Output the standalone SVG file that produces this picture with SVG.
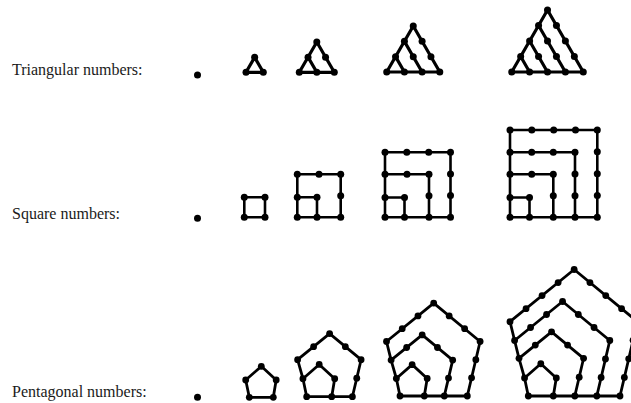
<svg xmlns="http://www.w3.org/2000/svg" width="631" height="403" viewBox="0 0 631 403">
<style>
.lbl{font-family:"Liberation Serif","Times New Roman",serif;font-size:16px;fill:#1a1a1a}
.ln{fill:none;stroke:#000;stroke-linejoin:round;stroke-linecap:round}
.tri .ln{stroke-width:3.2}
.sq .ln{stroke-width:2.6}
.pen .ln{stroke-width:2.8}
circle{fill:#000}
</style>
<rect width="631" height="403" fill="#fff"/>

<g id="labels">
<text class="lbl" x="12" y="74.5">Triangular numbers:</text>
<text class="lbl" x="12" y="218.5">Square numbers:</text>
<text class="lbl" x="12" y="397">Pentagonal numbers:</text>
</g>

<!-- Triangular -->
<g id="tri1" class="tri"><circle cx="197.5" cy="75" r="3.5"/></g>
<g id="tri2" class="tri">
<path class="ln" d="M246,72.3 L263.3,72.3 L254.65,57.32 Z"/>
<circle cx="246" cy="72.3" r="3.5"/><circle cx="263.3" cy="72.3" r="3.5"/><circle cx="254.65" cy="57.32" r="3.5"/>
</g>
<g id="tri3" class="tri">
<path class="ln" d="M299.3,72.3 L334.3,72.3 L316.8,42 Z M316.8,72.3 L308.05,57.15"/>
<circle cx="299.3" cy="72.3" r="3.5"/><circle cx="316.8" cy="72.3" r="3.5"/><circle cx="334.3" cy="72.3" r="3.5"/>
<circle cx="308.05" cy="57.15" r="3.5"/><circle cx="325.55" cy="57.15" r="3.5"/>
<circle cx="316.8" cy="42" r="3.5"/>
</g>
<g id="tri4" class="tri">
<path class="ln" d="M386.7,72 L439.8,72 L413.25,26 Z M422.1,72 L404.4,41.34 M404.4,72 L395.55,56.67"/>
<circle cx="386.7" cy="72" r="3.5"/><circle cx="404.4" cy="72" r="3.5"/><circle cx="422.1" cy="72" r="3.5"/><circle cx="439.8" cy="72" r="3.5"/>
<circle cx="395.55" cy="56.67" r="3.5"/><circle cx="413.25" cy="56.67" r="3.5"/><circle cx="430.95" cy="56.67" r="3.5"/>
<circle cx="404.4" cy="41.34" r="3.5"/><circle cx="422.1" cy="41.34" r="3.5"/>
<circle cx="413.25" cy="26" r="3.5"/>
</g>
<g id="tri5" class="tri">
<path class="ln" d="M511.7,72 L583.3,72 L547.5,10 Z M565.4,72 L538.55,25.5 M547.5,72 L529.6,41 M529.6,72 L520.65,56.5"/>
<circle cx="511.7" cy="72" r="3.5"/><circle cx="529.6" cy="72" r="3.5"/><circle cx="547.5" cy="72" r="3.5"/><circle cx="565.4" cy="72" r="3.5"/><circle cx="583.3" cy="72" r="3.5"/>
<circle cx="520.65" cy="56.5" r="3.5"/><circle cx="538.55" cy="56.5" r="3.5"/><circle cx="556.45" cy="56.5" r="3.5"/><circle cx="574.35" cy="56.5" r="3.5"/>
<circle cx="529.6" cy="41" r="3.5"/><circle cx="547.5" cy="41" r="3.5"/><circle cx="565.4" cy="41" r="3.5"/>
<circle cx="538.55" cy="25.5" r="3.5"/><circle cx="556.45" cy="25.5" r="3.5"/>
<circle cx="547.5" cy="10" r="3.5"/>
</g>

<!-- Square -->
<g id="sq1" class="sq"><circle cx="197.5" cy="218.3" r="3.5"/></g>
<g id="sq2" class="sq">
<path class="ln" d="M244.3,217.3 V197.3 H265 V217.3 Z"/>
<circle cx="244.3" cy="217.3" r="3.5"/><circle cx="265" cy="217.3" r="3.5"/><circle cx="244.3" cy="197.3" r="3.5"/><circle cx="265" cy="197.3" r="3.5"/>
</g>
<g id="sq3" class="sq">
<path class="ln" d="M297.3,217.3 V174.3 H340.7 V217.3 Z M297.3,197.3 H317 V217.3"/>
<circle cx="297.3" cy="174.3" r="3.5"/><circle cx="319" cy="174.3" r="3.5"/><circle cx="340.7" cy="174.3" r="3.5"/>
<circle cx="340.7" cy="195.8" r="3.5"/><circle cx="340.7" cy="217.3" r="3.5"/>
<circle cx="297.3" cy="197.3" r="3.5"/><circle cx="317" cy="197.3" r="3.5"/><circle cx="317" cy="217.3" r="3.5"/>
<circle cx="297.3" cy="217.3" r="3.5"/>
</g>
<g id="sq4" class="sq">
<path class="ln" d="M385,217.3 V152.3 H450.5 V217.3 Z M385,174.3 H429 V217.3 M385,197.5 H404.5 V217.3"/>
<circle cx="385" cy="152.3" r="3.5"/><circle cx="406.8" cy="152.3" r="3.5"/><circle cx="428.7" cy="152.3" r="3.5"/><circle cx="450.5" cy="152.3" r="3.5"/>
<circle cx="450.5" cy="174" r="3.5"/><circle cx="450.5" cy="195.6" r="3.5"/><circle cx="450.5" cy="217.3" r="3.5"/>
<circle cx="385" cy="174.3" r="3.5"/><circle cx="407" cy="174.3" r="3.5"/><circle cx="429" cy="174.3" r="3.5"/>
<circle cx="429" cy="195.8" r="3.5"/><circle cx="429" cy="217.3" r="3.5"/>
<circle cx="385" cy="197.5" r="3.5"/><circle cx="404.5" cy="197.5" r="3.5"/><circle cx="404.5" cy="217.3" r="3.5"/>
<circle cx="385" cy="217.3" r="3.5"/>
</g>
<g id="sq5" class="sq">
<path class="ln" d="M510,217.3 V130 H597.3 V217.3 Z M510,152.3 H575 V217.3 M510,174.3 H553.3 V217.3 M510,197.5 H529.5 V217.3"/>
<circle cx="510" cy="130" r="3.5"/><circle cx="531.8" cy="130" r="3.5"/><circle cx="553.7" cy="130" r="3.5"/><circle cx="575.5" cy="130" r="3.5"/><circle cx="597.3" cy="130" r="3.5"/>
<circle cx="597.3" cy="151.8" r="3.5"/><circle cx="597.3" cy="173.7" r="3.5"/><circle cx="597.3" cy="195.5" r="3.5"/><circle cx="597.3" cy="217.3" r="3.5"/>
<circle cx="510" cy="152.3" r="3.5"/><circle cx="531.7" cy="152.3" r="3.5"/><circle cx="553.3" cy="152.3" r="3.5"/><circle cx="575" cy="152.3" r="3.5"/>
<circle cx="575" cy="174" r="3.5"/><circle cx="575" cy="195.7" r="3.5"/><circle cx="575" cy="217.3" r="3.5"/>
<circle cx="510" cy="174.3" r="3.5"/><circle cx="531.7" cy="174.3" r="3.5"/><circle cx="553.3" cy="174.3" r="3.5"/>
<circle cx="553.3" cy="195.8" r="3.5"/><circle cx="553.3" cy="217.3" r="3.5"/>
<circle cx="510" cy="197.5" r="3.5"/><circle cx="529.5" cy="197.5" r="3.5"/><circle cx="529.5" cy="217.3" r="3.5"/>
<circle cx="510" cy="217.3" r="3.5"/>
</g>

<!-- Pentagonal -->
<g id="pen1" class="pen"><circle cx="197.5" cy="397.3" r="3.5"/></g>
<g id="pen2" class="pen">
<path class="ln" d="M249.3,397.3 L273.3,397.3 L276.18,380.02 L261.3,366.34 L245.7,380.02 Z"/>
<circle cx="249.3" cy="397.3" r="3.4"/><circle cx="273.3" cy="397.3" r="3.4"/><circle cx="276.18" cy="380.02" r="3.4"/><circle cx="261.3" cy="366.34" r="3.4"/><circle cx="245.7" cy="380.02" r="3.4"/>
</g>
<g id="pen3" class="pen">
<path class="ln" d="M306.7,396.7 L352.4,396.7 M306.7,396.7 L302.95,378.7 L297.6,359.7 M331.7,396.7 L334.7,378.7 L319.2,364.45 L302.95,378.7 M352.4,396.7 L361.1,359.7 L329.6,333.6 L297.6,359.7"/>
<circle cx="306.7" cy="396.7" r="3.4"/>
<circle cx="331.7" cy="396.7" r="3.4"/><circle cx="334.7" cy="378.7" r="3.4"/><circle cx="319.2" cy="364.45" r="3.4"/><circle cx="302.95" cy="378.7" r="3.4"/>
<circle cx="352.4" cy="396.7" r="3.4"/><circle cx="356.75" cy="378.2" r="3.4"/><circle cx="361.1" cy="359.7" r="3.4"/><circle cx="345.35" cy="346.65" r="3.4"/><circle cx="329.6" cy="333.6" r="3.4"/><circle cx="313.6" cy="346.65" r="3.4"/><circle cx="297.6" cy="359.7" r="3.4"/>
</g>
<g id="pen4" class="pen">
<path class="ln" d="M400,396 L467.3,396 M400,396 L396.35,378.5 L391.1,360.1 L386.5,341.5 M424.3,396 L427.2,378.5 L412.15,364.65 L396.35,378.5 M444.3,396 L452.7,360.1 L422.2,334.9 L391.1,360.1 M467.3,396 L480.1,341.5 L433.7,303.1 L386.5,341.5"/>
<circle cx="400" cy="396" r="3.4"/>
<circle cx="424.3" cy="396" r="3.4"/><circle cx="427.2" cy="378.5" r="3.4"/><circle cx="412.15" cy="364.65" r="3.4"/><circle cx="396.35" cy="378.5" r="3.4"/>
<circle cx="444.3" cy="396" r="3.4"/><circle cx="448.5" cy="378.05" r="3.4"/><circle cx="452.7" cy="360.1" r="3.4"/><circle cx="437.45" cy="347.5" r="3.4"/><circle cx="422.2" cy="334.9" r="3.4"/><circle cx="406.65" cy="347.5" r="3.4"/><circle cx="391.1" cy="360.1" r="3.4"/>
<circle cx="467.3" cy="396" r="3.4"/><circle cx="471.57" cy="377.83" r="3.4"/><circle cx="475.83" cy="359.67" r="3.4"/><circle cx="480.1" cy="341.5" r="3.4"/><circle cx="464.63" cy="328.7" r="3.4"/><circle cx="449.17" cy="315.9" r="3.4"/><circle cx="433.7" cy="303.1" r="3.4"/><circle cx="417.97" cy="315.9" r="3.4"/><circle cx="402.23" cy="328.7" r="3.4"/><circle cx="386.5" cy="341.5" r="3.4"/>
</g>
<g id="pen5" class="pen">
<path class="ln" d="M528.3,396 L620,396 M528.3,396 L524.55,378 L519,358.3 L514.6,340.5 L510,321.7 M553.3,396 L556.3,378 L540.8,363.75 L524.55,378 M574.8,396 L583.6,358.3 L551.55,331.8 L519,358.3 M596.8,396 L609.8,340.5 L562.55,301.5 L514.6,340.5 M620,396 L637.4,321.7 L574.15,269.5 L510,321.7"/>
<circle cx="528.3" cy="396" r="3.4"/>
<circle cx="553.3" cy="396" r="3.4"/><circle cx="556.3" cy="378" r="3.4"/><circle cx="540.8" cy="363.75" r="3.4"/><circle cx="524.55" cy="378" r="3.4"/>
<circle cx="574.8" cy="396" r="3.4"/><circle cx="579.2" cy="377.15" r="3.4"/><circle cx="583.6" cy="358.3" r="3.4"/><circle cx="567.58" cy="345.05" r="3.4"/><circle cx="551.55" cy="331.8" r="3.4"/><circle cx="535.28" cy="345.05" r="3.4"/><circle cx="519" cy="358.3" r="3.4"/>
<circle cx="596.8" cy="396" r="3.4"/><circle cx="601.13" cy="377.5" r="3.4"/><circle cx="605.47" cy="359" r="3.4"/><circle cx="609.8" cy="340.5" r="3.4"/><circle cx="594.05" cy="327.5" r="3.4"/><circle cx="578.3" cy="314.5" r="3.4"/><circle cx="562.55" cy="301.5" r="3.4"/><circle cx="546.57" cy="314.5" r="3.4"/><circle cx="530.58" cy="327.5" r="3.4"/><circle cx="514.6" cy="340.5" r="3.4"/>
<circle cx="620" cy="396" r="3.4"/><circle cx="624.35" cy="377.43" r="3.4"/><circle cx="628.7" cy="358.85" r="3.4"/><circle cx="633.05" cy="340.28" r="3.4"/><circle cx="637.4" cy="321.7" r="3.4"/><circle cx="621.59" cy="308.65" r="3.4"/><circle cx="605.78" cy="295.6" r="3.4"/><circle cx="589.96" cy="282.55" r="3.4"/><circle cx="574.15" cy="269.5" r="3.4"/><circle cx="558.11" cy="282.55" r="3.4"/><circle cx="542.08" cy="295.6" r="3.4"/><circle cx="526.04" cy="308.65" r="3.4"/><circle cx="510" cy="321.7" r="3.4"/>
</g>
</svg>
